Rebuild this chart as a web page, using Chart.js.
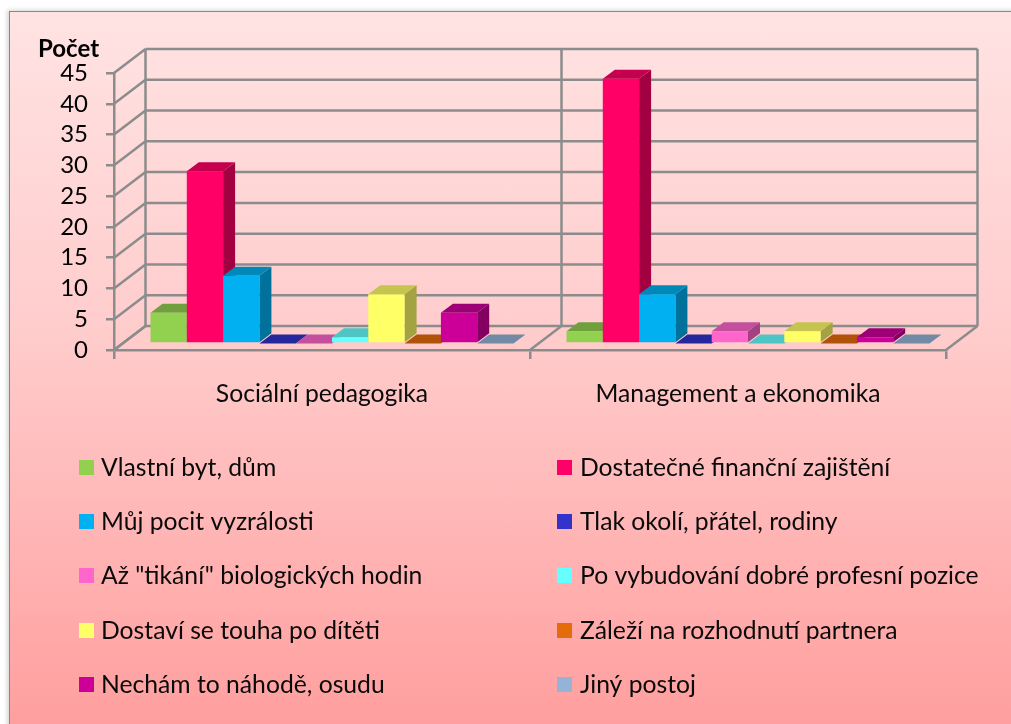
<!DOCTYPE html>
<html><head><meta charset="utf-8">
<style>
html,body{margin:0;padding:0;background:#fff;width:1011px;height:724px;overflow:hidden}
#card{position:absolute;left:9px;top:11px;width:1010px;height:720px;border:1px solid #cf6a68;box-shadow:-2px -1px 4px rgba(120,120,120,.3);
background:linear-gradient(180deg,#ffe3e3 0%,#ffcccc 45%,#ff9e9e 100%);box-sizing:border-box}
canvas{position:absolute;left:0;top:0}
</style>
<script src="https://cdn.jsdelivr.net/npm/chart.js@4"></script>
</head><body><div id="card"></div>
<div style="position:absolute;left:0;top:0;width:1011px;height:724px"><canvas id="c" width="1011" height="724"></canvas></div>
<script>
const categories = ["Sociální pedagogika", "Management a ekonomika"];
const seriesNames = ["Vlastní byt, dům","Dostatečné finanční zajištění","Můj pocit vyzrálosti","Tlak okolí, přátel, rodiny","Až \"tikání\" biologických hodin","Po vybudování dobré profesní pozice","Dostaví se touha po dítěti","Záleží na rozhodnutí partnera","Nechám to náhodě, osudu","Jiný postoj"];
const vlastniByt = [5, 2];
const financni = [28, 43];
const vyzralost = [11, 8];
const tlakOkoli = [0, 0];
const tikani = [0, 2];
const profesni = [1, 0];
const touha = [8, 2];
const partner = [0, 0];
const nahoda = [5, 1];
const jiny = [0, 0];
const seriesValues = [vlastniByt, financni, vyzralost, tlakOkoli, tikani, profesni, touha, partner, nahoda, jiny];
const seriesColors = ["#92D050","#FF0066","#00B0F0","#3333CC","#FF66CC","#66FFFF","#FFFF66","#E46C0A","#CC0099","#95B3D7"];

const FONT = "Lato, Carlito, Calibri, sans-serif";
const GRID = "#8c8c8c";
const LINE = 2.5;
const WALL = {dx:31.5, dy:-24};
const BAR_OFFSET = {dx:10, dy:-6.5};
const BAR_DEPTH = {dx:12, dy:-9};

function shade(hex,f){
  const n=parseInt(hex.slice(1),16);
  const c=s=>Math.round(((n>>s)&255)*f);
  return `rgb(${c(16)},${c(8)},${c(0)})`;
}
function poly(ctx,pts,fill){
  ctx.beginPath();pts.forEach((p,i)=>i?ctx.lineTo(p[0],p[1]):ctx.moveTo(p[0],p[1]));ctx.closePath();
  ctx.fillStyle=fill;ctx.fill();
}
const walls = {
  id:"walls",
  beforeDatasetsDraw(chart){
    const {ctx,scales:{x,y},chartArea:a}=chart;
    ctx.save();ctx.strokeStyle=GRID;ctx.lineWidth=LINE;
    const line=(x1,y1,x2,y2)=>{ctx.beginPath();ctx.moveTo(x1,y1);ctx.lineTo(x2,y2);ctx.stroke();};
    y.ticks.forEach(t=>{
      const py=y.getPixelForValue(t.value);
      line(a.left,py,a.left+WALL.dx,py+WALL.dy);
      line(a.left+WALL.dx,py+WALL.dy,a.right+WALL.dx,py+WALL.dy);
    });
    const top=y.getPixelForValue(y.max)+WALL.dy, bot=y.getPixelForValue(0)+WALL.dy;
    const step=(a.right-a.left)/categories.length;
    for(let i=0;i<=categories.length;i++){
      const bx=a.left+step*i;
      line(bx+WALL.dx,top,bx+WALL.dx,bot);
      line(bx,bot-WALL.dy,bx+WALL.dx,bot);
    }
    ctx.restore();
  },
  beforeDatasetDraw(){return false;},
  afterDatasetsDraw(chart){
    const {ctx}=chart;
    ctx.save();ctx.translate(BAR_OFFSET.dx,BAR_OFFSET.dy);
    seriesValues.forEach((_,i)=>{
      const meta=chart.getDatasetMeta(i), col=seriesColors[i];
      meta.data.forEach(b=>{
        const l=b.x-b.width/2,r=b.x+b.width/2,t=b.y,base=b.base,dx=BAR_DEPTH.dx,dy=BAR_DEPTH.dy;
        poly(ctx,[[r,t],[r+dx,t+dy],[r+dx,base+dy],[r,base]],shade(col,0.64));
        poly(ctx,[[l,t],[l+dx,t+dy],[r+dx,t+dy],[r,t]],shade(col,0.77));
      });
      meta.controller.draw();
    });
    ctx.restore();
  },
  afterDraw(chart){
    const {ctx}=chart;
    ctx.save();ctx.textBaseline="middle";ctx.fillStyle="#000";
    ctx.font="bold 24px "+FONT;ctx.textAlign="left";
    ctx.fillText("Počet",38,49);
    ctx.font="24.7px "+FONT;
    const rows=[468,522,576,631,685],cols=[{b:79,t:101},{b:557,t:580}];
    seriesNames.forEach((s,i)=>{
      const c=cols[i%2],ry=rows[Math.floor(i/2)];
      ctx.fillStyle=seriesColors[i];ctx.fillRect(c.b,ry-8,15,15);
      ctx.fillStyle="#0a0a0a";ctx.fillText(s,c.t,ry);
    });
    ctx.restore();
  }
};
new Chart(document.getElementById("c"),{
  type:"bar",
  data:{labels:categories,datasets:seriesNames.map((n,i)=>({label:n,data:seriesValues[i],backgroundColor:seriesColors[i],borderWidth:0}))},
  options:{
    responsive:false,animation:false,
    layout:{padding:{left:0,right:65,top:73,bottom:314}},
    datasets:{bar:{categoryPercentage:0.8726,barPercentage:1}},
    plugins:{legend:{display:false},title:{display:false},tooltip:{enabled:false}},
    scales:{
      x:{
        afterFit(s){s.height=60;},
        grid:{display:true,drawOnChartArea:false,drawTicks:true,tickLength:9,color:GRID,lineWidth:LINE,offset:true},
        border:{display:true,color:GRID,width:LINE},
        ticks:{color:"#0a0a0a",font:{family:FONT,size:24.7},padding:20,maxRotation:0}
      },
      y:{
        min:0,max:45,
        afterFit(s){s.width=114;},
        grid:{display:true,drawOnChartArea:false,drawTicks:true,tickLength:8,color:GRID,lineWidth:LINE},
        border:{display:true,color:GRID,width:LINE},
        ticks:{stepSize:5,autoSkip:false,color:"#000",font:{family:FONT,size:24},padding:18}
      }
    }
  },
  plugins:[walls]
});
</script></body></html>
